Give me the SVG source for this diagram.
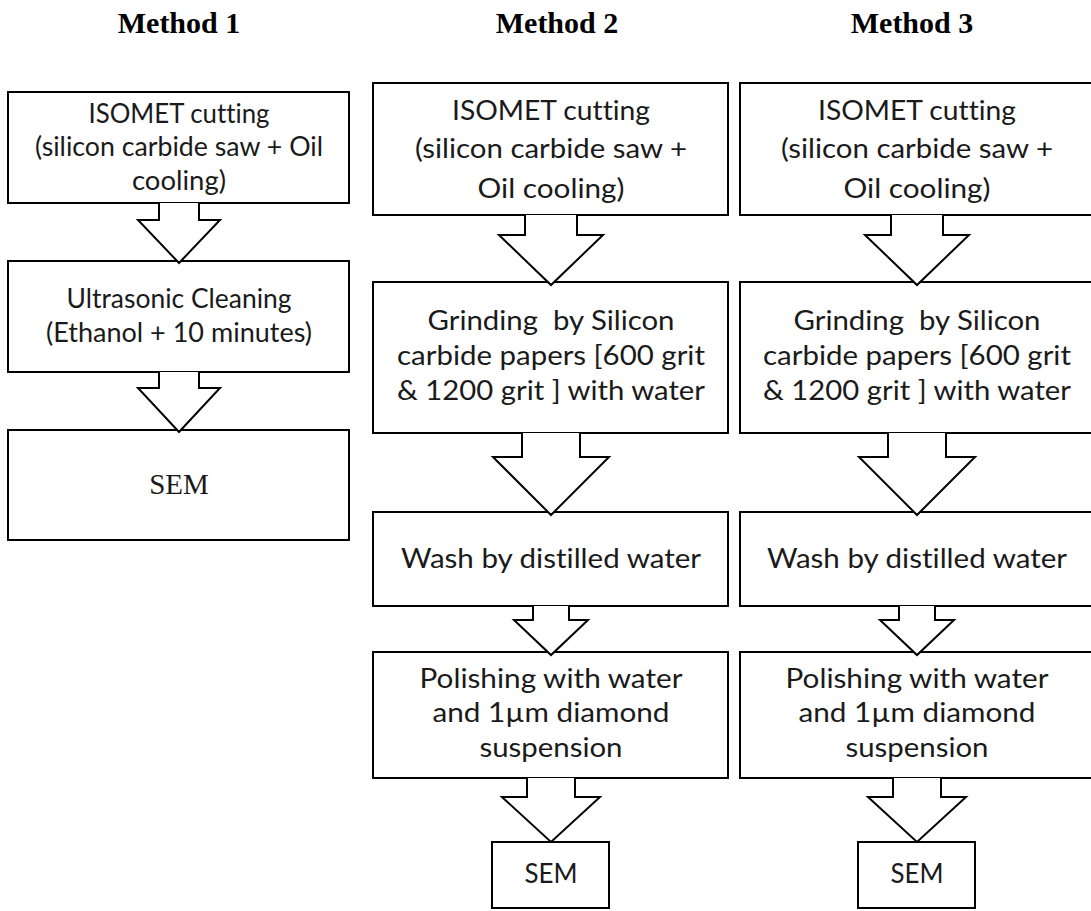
<svg xmlns="http://www.w3.org/2000/svg" width="1091" height="911" viewBox="0 0 1091 911">
<style>
.box{fill:#fff;stroke:#000;stroke-width:2}
.arr{fill:#fff;stroke:#000;stroke-width:2;stroke-linejoin:miter}
.t{font-family:Lato,"Liberation Sans",sans-serif;font-size:26px;fill:#1a1a1a;text-anchor:middle;font-variant-ligatures:none}
.title{font-family:"Liberation Serif",serif;font-weight:bold;font-size:30px;fill:#000;text-anchor:middle}
.serif{font-family:"Liberation Serif",serif;font-size:29px;fill:#1a1a1a;text-anchor:middle}
</style>
<rect width="1091" height="911" fill="#fff"/>
<g id="titles">
<text class="title" x="179" y="33">Method 1</text>
<text class="title" x="557" y="33">Method 2</text>
<text class="title" x="912" y="33">Method 3</text>
</g>
<g id="m1-cut"><rect class="box" x="8" y="92" width="341" height="111"/>
<text class="t" x="179" y="123" textLength="181" lengthAdjust="spacingAndGlyphs">ISOMET cutting</text>
<text class="t" x="179" y="156" textLength="288" lengthAdjust="spacingAndGlyphs">(silicon carbide saw + Oil</text>
<text class="t" x="179" y="190" textLength="94" lengthAdjust="spacingAndGlyphs">cooling)</text></g>
<g id="m1-clean"><rect class="box" x="8" y="261" width="341" height="111"/>
<text class="t" x="179" y="308" textLength="225" lengthAdjust="spacingAndGlyphs">Ultrasonic Cleaning</text>
<text class="t" x="179" y="342" textLength="266" lengthAdjust="spacingAndGlyphs">(Ethanol + 10 minutes)</text></g>
<g id="m1-sem"><rect class="box" x="8" y="430" width="341" height="110"/>
<text class="serif" x="179" y="494">SEM</text></g>
<g id="m2-cut"><rect class="box" x="373" y="83" width="355" height="132"/>
<text class="t" x="551" y="120" textLength="198" lengthAdjust="spacingAndGlyphs">ISOMET cutting</text>
<text class="t" x="551" y="158" textLength="272" lengthAdjust="spacingAndGlyphs">(silicon carbide saw +</text>
<text class="t" x="551" y="198" textLength="147" lengthAdjust="spacingAndGlyphs">Oil cooling)</text></g>
<g id="m2-grind"><rect class="box" x="373" y="282" width="355" height="151"/>
<text class="t" x="551" y="330" textLength="247" lengthAdjust="spacingAndGlyphs" xml:space="preserve">Grinding  by Silicon</text>
<text class="t" x="551" y="365" textLength="308" lengthAdjust="spacingAndGlyphs">carbide papers [600 grit</text>
<text class="t" x="551" y="400" textLength="308" lengthAdjust="spacingAndGlyphs">&amp; 1200 grit ] with water</text></g>
<g id="m2-wash"><rect class="box" x="373" y="512" width="355" height="94"/>
<text class="t" x="551" y="568" textLength="300" lengthAdjust="spacingAndGlyphs">Wash by distilled water</text></g>
<g id="m2-polish"><rect class="box" x="373" y="652" width="355" height="126"/>
<text class="t" x="551" y="688" textLength="263" lengthAdjust="spacingAndGlyphs">Polishing with water</text>
<text class="t" x="551" y="722" textLength="237" lengthAdjust="spacingAndGlyphs">and 1µm diamond</text>
<text class="t" x="551" y="757" textLength="143" lengthAdjust="spacingAndGlyphs">suspension</text></g>
<g id="m2-sem"><rect class="box" x="492" y="842" width="117" height="66"/>
<text class="t" x="551" y="883" textLength="53" lengthAdjust="spacingAndGlyphs">SEM</text></g>
<g id="m3-cut"><rect class="box" x="740" y="83" width="355" height="132"/>
<text class="t" x="917" y="120" textLength="198" lengthAdjust="spacingAndGlyphs">ISOMET cutting</text>
<text class="t" x="917" y="158" textLength="272" lengthAdjust="spacingAndGlyphs">(silicon carbide saw +</text>
<text class="t" x="917" y="198" textLength="147" lengthAdjust="spacingAndGlyphs">Oil cooling)</text></g>
<g id="m3-grind"><rect class="box" x="740" y="282" width="355" height="151"/>
<text class="t" x="917" y="330" textLength="247" lengthAdjust="spacingAndGlyphs" xml:space="preserve">Grinding  by Silicon</text>
<text class="t" x="917" y="365" textLength="308" lengthAdjust="spacingAndGlyphs">carbide papers [600 grit</text>
<text class="t" x="917" y="400" textLength="308" lengthAdjust="spacingAndGlyphs">&amp; 1200 grit ] with water</text></g>
<g id="m3-wash"><rect class="box" x="740" y="512" width="355" height="94"/>
<text class="t" x="917" y="568" textLength="300" lengthAdjust="spacingAndGlyphs">Wash by distilled water</text></g>
<g id="m3-polish"><rect class="box" x="740" y="652" width="355" height="126"/>
<text class="t" x="917" y="688" textLength="263" lengthAdjust="spacingAndGlyphs">Polishing with water</text>
<text class="t" x="917" y="722" textLength="237" lengthAdjust="spacingAndGlyphs">and 1µm diamond</text>
<text class="t" x="917" y="757" textLength="143" lengthAdjust="spacingAndGlyphs">suspension</text></g>
<g id="m3-sem"><rect class="box" x="858" y="842" width="117" height="66"/>
<text class="t" x="917" y="883" textLength="53" lengthAdjust="spacingAndGlyphs">SEM</text></g>
<g id="connectors">
<polyline class="arr" points="159,203 159,220 138,220 179,263 220,220 199,220 199,203"/>
<polyline class="arr" points="159,372 159,388 138,388 179,432 220,388 199,388 199,372"/>
<polyline class="arr" points="525,215 525,235 499,235 551,285 603,235 577,235 577,215"/>
<polyline class="arr" points="522,433 522,457 493,457 551,515 609,457 580,457 580,433"/>
<polyline class="arr" points="533,606 533,620 514,620 551,655 588,620 569,620 569,606"/>
<polyline class="arr" points="527,778 527,797 502,797 551,842 600,797 575,797 575,778"/>
<polyline class="arr" points="891,215 891,235 865,235 917,285 969,235 943,235 943,215"/>
<polyline class="arr" points="888,433 888,457 859,457 917,515 975,457 946,457 946,433"/>
<polyline class="arr" points="899,606 899,620 880,620 917,655 954,620 935,620 935,606"/>
<polyline class="arr" points="893,778 893,797 868,797 917,842 966,797 941,797 941,778"/>
</g>
</svg>
